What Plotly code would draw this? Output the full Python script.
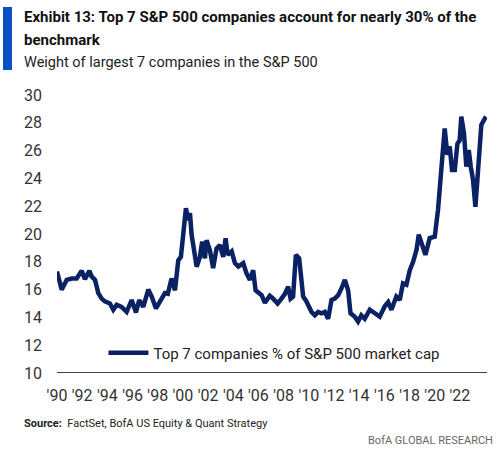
import plotly.graph_objects as go

NAVY = "#0a2163"
FONT = "Roboto, Arial, sans-serif"

# decimal year, weight of top 7 (%)
years = [1990.0, 1990.37, 1990.77, 1991.17, 1991.56, 1991.96, 1992.22, 1992.57, 1992.75, 1993.02,
         1993.28, 1993.55, 1993.8, 1994.2, 1994.47, 1994.74, 1995.13, 1995.53, 1995.93, 1996.27,
         1996.53, 1996.85, 1997.25, 1997.52, 1997.86, 1998.17, 1998.57, 1998.8, 1999.1, 1999.37,
         1999.63, 1999.84, 2000.03, 2000.24, 2000.42, 2000.56, 2000.69, 2000.82, 2001.09, 2001.35,
         2001.53, 2001.75, 2001.88, 2002.14, 2002.4, 2002.67, 2002.94, 2003.2, 2003.39, 2003.55,
         2003.87, 2004.13, 2004.4, 2004.79, 2005.06, 2005.32, 2005.58, 2005.77, 2006.25, 2006.51,
         2006.9, 2007.17, 2007.52, 2007.83, 2008.1, 2008.36, 2008.55, 2008.75, 2008.97, 2009.23,
         2009.42, 2009.55, 2009.81, 2010.02, 2010.21, 2010.48, 2010.74, 2011.0, 2011.27, 2011.53,
         2011.8, 2012.06, 2012.33, 2012.6, 2012.86, 2013.12, 2013.31, 2013.65, 2013.91, 2014.17,
         2014.44, 2014.84, 2015.24, 2015.63, 2016.03, 2016.3, 2016.56, 2016.95, 2017.22, 2017.48,
         2017.75, 2018.02, 2018.28, 2018.55, 2018.73, 2018.94, 2019.26, 2019.6, 2020.0, 2020.26,
         2020.48, 2020.66, 2020.79, 2021.0, 2021.19, 2021.37, 2021.59, 2021.8, 2021.98, 2022.11,
         2022.32, 2022.51, 2022.7, 2022.86, 2023.04, 2023.23, 2023.44, 2023.7, 2023.97, 2024.1]
weight = [17.3, 16.0, 16.7, 16.8, 16.8, 17.35, 16.75, 17.35, 16.95, 16.7,
          15.75, 15.35, 15.15, 15.0, 14.55, 14.9, 14.75, 14.4, 15.25, 14.35,
          15.25, 14.75, 16.0, 15.5, 14.65, 15.15, 15.75, 15.7, 16.8, 15.95,
          18.1, 18.35, 20.3, 21.85, 21.0, 21.5, 19.95, 19.1, 17.65, 18.35,
          19.45, 18.25, 19.55, 18.85, 17.55, 18.95, 19.2, 18.35, 19.7, 18.5,
          18.75, 17.9, 17.65, 17.9, 17.15, 16.7, 17.4, 15.95, 15.6, 15.05,
          15.55, 15.35, 15.0, 15.35, 15.7, 16.2, 15.35, 15.5, 18.5, 18.25,
          16.95, 15.5, 15.15, 14.75, 14.4, 14.15, 14.4, 14.3, 14.4, 13.9,
          15.25, 15.35, 15.6, 16.1, 16.7, 15.95, 14.3, 14.05, 13.7, 14.15,
          13.9, 14.55, 14.3, 14.05, 14.8, 15.1, 14.55, 15.5, 15.25, 16.45,
          16.35, 17.4, 18.0, 18.85, 19.95, 19.35, 18.5, 19.7, 19.8, 21.75,
          24.1, 25.55, 27.6, 25.7, 26.3, 24.6, 24.6, 26.5, 26.75, 28.45,
          27.25, 24.85, 26.05, 24.85, 23.9, 21.95, 24.85, 27.85, 28.3, 28.2]

tick_years = list(range(1990, 2023, 2))
tick_labels = ["'" + str(y)[2:] for y in tick_years]
y_ticks = list(range(10, 31, 2))

fig = go.Figure()
fig.add_trace(go.Scatter(x=years, y=weight, mode="lines",
                         name="Top 7 companies % of S&P 500 market cap",
                         line=dict(color=NAVY, width=4.5)))

fig.update_layout(
    width=503, height=452,
    paper_bgcolor="white", plot_bgcolor="white",
    margin=dict(l=57, r=16, t=95, b=79),
    font=dict(family=FONT, color="#222222"),
    showlegend=True,
    legend=dict(x=0.108, y=0.072, xanchor="left", yanchor="middle",
                bgcolor="rgba(0,0,0,0)", font=dict(size=15, color="#222222"),
                itemwidth=40),
)
fig.update_xaxes(range=[1990, 2024.15], tickvals=tick_years, ticktext=tick_labels,
                 showgrid=False, zeroline=False, showline=False,
                 tickfont=dict(size=16, color="#333333"), ticks="", ticklabelstandoff=11)
fig.update_yaxes(range=[10, 30], tickvals=y_ticks, showgrid=False, zeroline=False,
                 showline=False, tickfont=dict(size=16, color="#333333"), ticks="",
                 ticklabelstandoff=14)

# x axis baseline
fig.add_shape(type="line", xref="paper", yref="y", x0=0, x1=1, y0=10, y1=10,
              line=dict(color="#404040", width=2))

# blue bar beside the title
fig.add_shape(type="rect", xref="paper", yref="paper",
              x0=-54 / 430, x1=-45 / 430, y0=(373 - 70) / 278, y1=(373 - 7) / 278,
              fillcolor="#0b4fc4", line_width=0)

def note(text, x, y, size, color, xanchor="left", bold=False):
    fig.add_annotation(text=f"<b>{text}</b>" if bold else text,
                       xref="paper", yref="paper",
                       x=(x - 57) / 430, y=(373 - y) / 278,
                       xanchor=xanchor, yanchor="middle", align="left", showarrow=False,
                       font=dict(size=size, color=color))

note("Exhibit 13: Top 7 S&P 500 companies account for nearly 30% of the", 22, 17, 15, "#111111", bold=True)
note("benchmark", 22, 40, 15, "#111111", bold=True)
note("Weight of largest 7 companies in the S&P 500", 22, 62, 14.5, "#222222")
note("<b>Source:</b>  FactSet, BofA US Equity & Quant Strategy", 22, 423, 11, "#222222")
note("BofA GLOBAL RESEARCH", 495, 440, 11, "#666666", xanchor="right")

# drop the default page margin so the figure sits at the window's corner
fig.write_html("out.html", config={"displayModeBar": False},
               post_script="document.body.style.margin='0';")
